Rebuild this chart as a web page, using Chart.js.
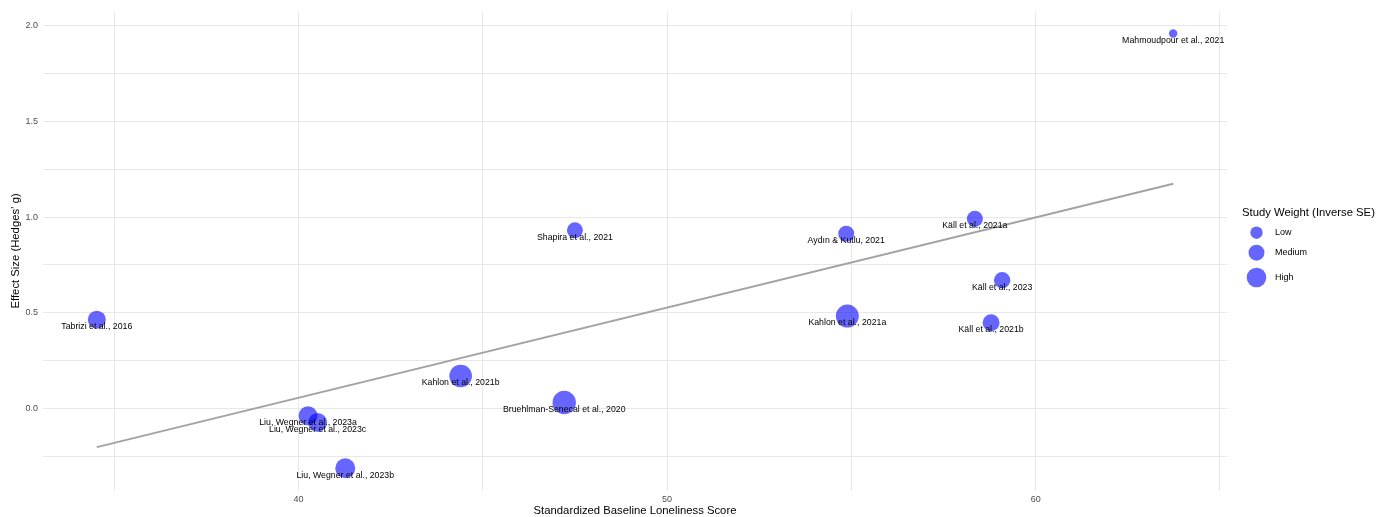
<!DOCTYPE html>
<html>
<head>
<meta charset="utf-8">
<script src="https://cdn.jsdelivr.net/npm/chart.js@4/dist/chart.umd.min.js"></script>
<style>
  html, body { margin: 0; padding: 0; background: #ffffff; }
  #wrap { width: 1389px; height: 517px; }
</style>
</head>
<body>
<div id="wrap"><canvas id="c" width="1389" height="517"></canvas></div>
<script>
// ---- Data ----
const studies = [
  "Tabrizi et al., 2016",
  "Liu, Wegner et al., 2023a",
  "Liu, Wegner et al., 2023c",
  "Liu, Wegner et al., 2023b",
  "Kahlon et al., 2021b",
  "Bruehlman-Senecal et al., 2020",
  "Shapira et al., 2021",
  "Aydın & Kutlu, 2021",
  "Käll et al., 2021a",
  "Käll et al., 2023",
  "Kahlon et al., 2021a",
  "Käll et al., 2021b",
  "Mahmoudpour et al., 2021"
];
const baselineScore = [34.53, 40.26, 40.52, 41.27, 44.40, 47.21, 47.50, 54.86, 58.35, 59.09, 54.89, 58.79, 63.73];
const hedgesG      = [0.464, -0.038, -0.073, -0.3125, 0.170, 0.031, 0.931, 0.913, 0.991, 0.670, 0.483, 0.448, 1.960];
const weightInvSE  = [6.40, 7.08, 7.00, 7.80, 9.83, 10.5, 5.13, 5.13, 5.20, 5.40, 10.16, 5.75, 1.60];
const legendBreaks = [3.2, 5.1, 7.5];
const legendLabels = ["Low", "Medium", "High"];
const xTickValues = [35, 40, 45, 50, 55, 60, 65];
const xTickLabels = ["", "40", "", "50", "", "60", ""];
const yTickValues = [-0.25, 0, 0.25, 0.5, 0.75, 1.0, 1.25, 1.5, 1.75, 2.0];
const yTickLabels = ["", "0.0", "", "0.5", "", "1.0", "", "1.5", "", "2.0"];

// ---- Derived ----
const FONT = "'Liberation Sans', Arial, Helvetica, sans-serif";
const POINT_COLOR = "rgba(0,0,255,0.6)";
const R_MIN = 4.2, R_MAX = 11.7;
const wMin = Math.min(...weightInvSE), wMax = Math.max(...weightInvSE);
function radiusFor(w) {
  const s = (Math.sqrt(w) - Math.sqrt(wMin)) / (Math.sqrt(wMax) - Math.sqrt(wMin));
  return R_MIN + (R_MAX - R_MIN) * s;
}
const points = baselineScore.map((x, i) => ({ x: x, y: hedgesG[i] }));
const radii = weightInvSE.map(radiusFor);

// OLS regression line
const n = baselineScore.length;
const mx = baselineScore.reduce((a, b) => a + b, 0) / n;
const my = hedgesG.reduce((a, b) => a + b, 0) / n;
let sxy = 0, sxx = 0;
for (let i = 0; i < n; i++) {
  sxy += (baselineScore[i] - mx) * (hedgesG[i] - my);
  sxx += (baselineScore[i] - mx) ** 2;
}
const slope = sxy / sxx, intercept = my - slope * mx;
const xLo = Math.min(...baselineScore), xHi = Math.max(...baselineScore);
const fitLine = [{ x: xLo, y: intercept + slope * xLo }, { x: xHi, y: intercept + slope * xHi }];

const yLo = Math.min(...hedgesG), yHi = Math.max(...hedgesG);
const xPad = (xHi - xLo) * 0.05, yPad = (yHi - yLo) * 0.05;

// ---- Plugins ----
const labelPlugin = {
  id: 'pointLabels',
  afterDatasetsDraw(chart) {
    const ctx = chart.ctx;
    const xs = chart.scales.x, ys = chart.scales.y;
    ctx.save();
    ctx.font = "8.75px " + FONT;
    ctx.fillStyle = "#000000";
    ctx.textAlign = "center";
    ctx.textBaseline = "middle";
    for (let i = 0; i < n; i++) {
      const px = xs.getPixelForValue(baselineScore[i]);
      const py = ys.getPixelForValue(hedgesG[i]);
      ctx.fillText(studies[i], px, py + 7);
    }
    ctx.restore();
  }
};

const sizeLegendPlugin = {
  id: 'sizeLegend',
  afterDraw(chart) {
    const ctx = chart.ctx;
    ctx.save();
    ctx.fillStyle = "#000000";
    ctx.font = "11.3px " + FONT;
    ctx.textAlign = "left";
    ctx.textBaseline = "middle";
    ctx.fillText("Study Weight (Inverse SE)", 1242, 213);
    const ys = [232.7, 252.7, 277.5];
    for (let i = 0; i < legendBreaks.length; i++) {
      ctx.beginPath();
      ctx.arc(1256.5, ys[i], radiusFor(legendBreaks[i]), 0, Math.PI * 2);
      ctx.fillStyle = POINT_COLOR;
      ctx.fill();
      ctx.fillStyle = "#000000";
      ctx.font = "9px " + FONT;
      ctx.fillText(legendLabels[i], 1275, ys[i]);
    }
    ctx.restore();
  }
};

new Chart(document.getElementById('c'), {
  type: 'scatter',
  data: {
    datasets: [
      {
        label: 'Studies',
        data: points,
        pointRadius: radii,
        pointHoverRadius: radii,
        backgroundColor: POINT_COLOR,
        borderWidth: 0,
        order: 0
      },
      {
        type: 'line',
        label: 'Fit',
        data: fitLine,
        borderColor: '#a3a3a3',
        borderWidth: 2,
        pointRadius: 0,
        fill: false,
        order: 1
      }
    ]
  },
  options: {
    responsive: false,
    animation: false,
    events: [],
    layout: { padding: { top: 10, right: 162, bottom: 0, left: 0 } },
    plugins: { legend: { display: false }, tooltip: { enabled: false } },
    scales: {
      x: {
        type: 'linear',
        min: xLo - xPad,
        max: xHi + xPad,
        afterFit(s) { s.height = 27; },
        afterBuildTicks(s) { s.ticks = xTickValues.map(v => ({ value: v })); },
        grid: { color: '#e8e8e8', lineWidth: 1, drawTicks: false },
        border: { display: false },
        ticks: {
          padding: 4,
          color: '#4d4d4d',
          font: { family: FONT, size: 9 },
          maxRotation: 0,
          autoSkip: false,
          callback(v) { const i = xTickValues.indexOf(v); return i >= 0 ? xTickLabels[i] : ''; }
        },
        title: {
          display: true,
          text: 'Standardized Baseline Loneliness Score',
          color: '#000000',
          font: { family: FONT, size: 11.3, lineHeight: 1.1 },
          padding: { top: 0, bottom: 0 }
        }
      },
      y: {
        type: 'linear',
        min: yLo - yPad,
        max: yHi + yPad,
        afterFit(s) { s.width = 43; },
        afterBuildTicks(s) { s.ticks = yTickValues.map(v => ({ value: v })); },
        grid: { color: '#e8e8e8', lineWidth: 1, drawTicks: false },
        border: { display: false },
        ticks: {
          padding: 5,
          color: '#4d4d4d',
          font: { family: FONT, size: 9 },
          autoSkip: false,
          callback(v) {
            const i = yTickValues.findIndex(t => Math.abs(t - v) < 1e-9);
            return i >= 0 ? yTickLabels[i] : '';
          }
        },
        title: {
          display: true,
          text: 'Effect Size (Hedges\u2019 g)',
          color: '#000000',
          font: { family: FONT, size: 11.3, lineHeight: 1.2 },
          padding: { top: 9, bottom: 0 }
        }
      }
    }
  },
  plugins: [labelPlugin, sizeLegendPlugin]
});
</script>
</body>
</html>
